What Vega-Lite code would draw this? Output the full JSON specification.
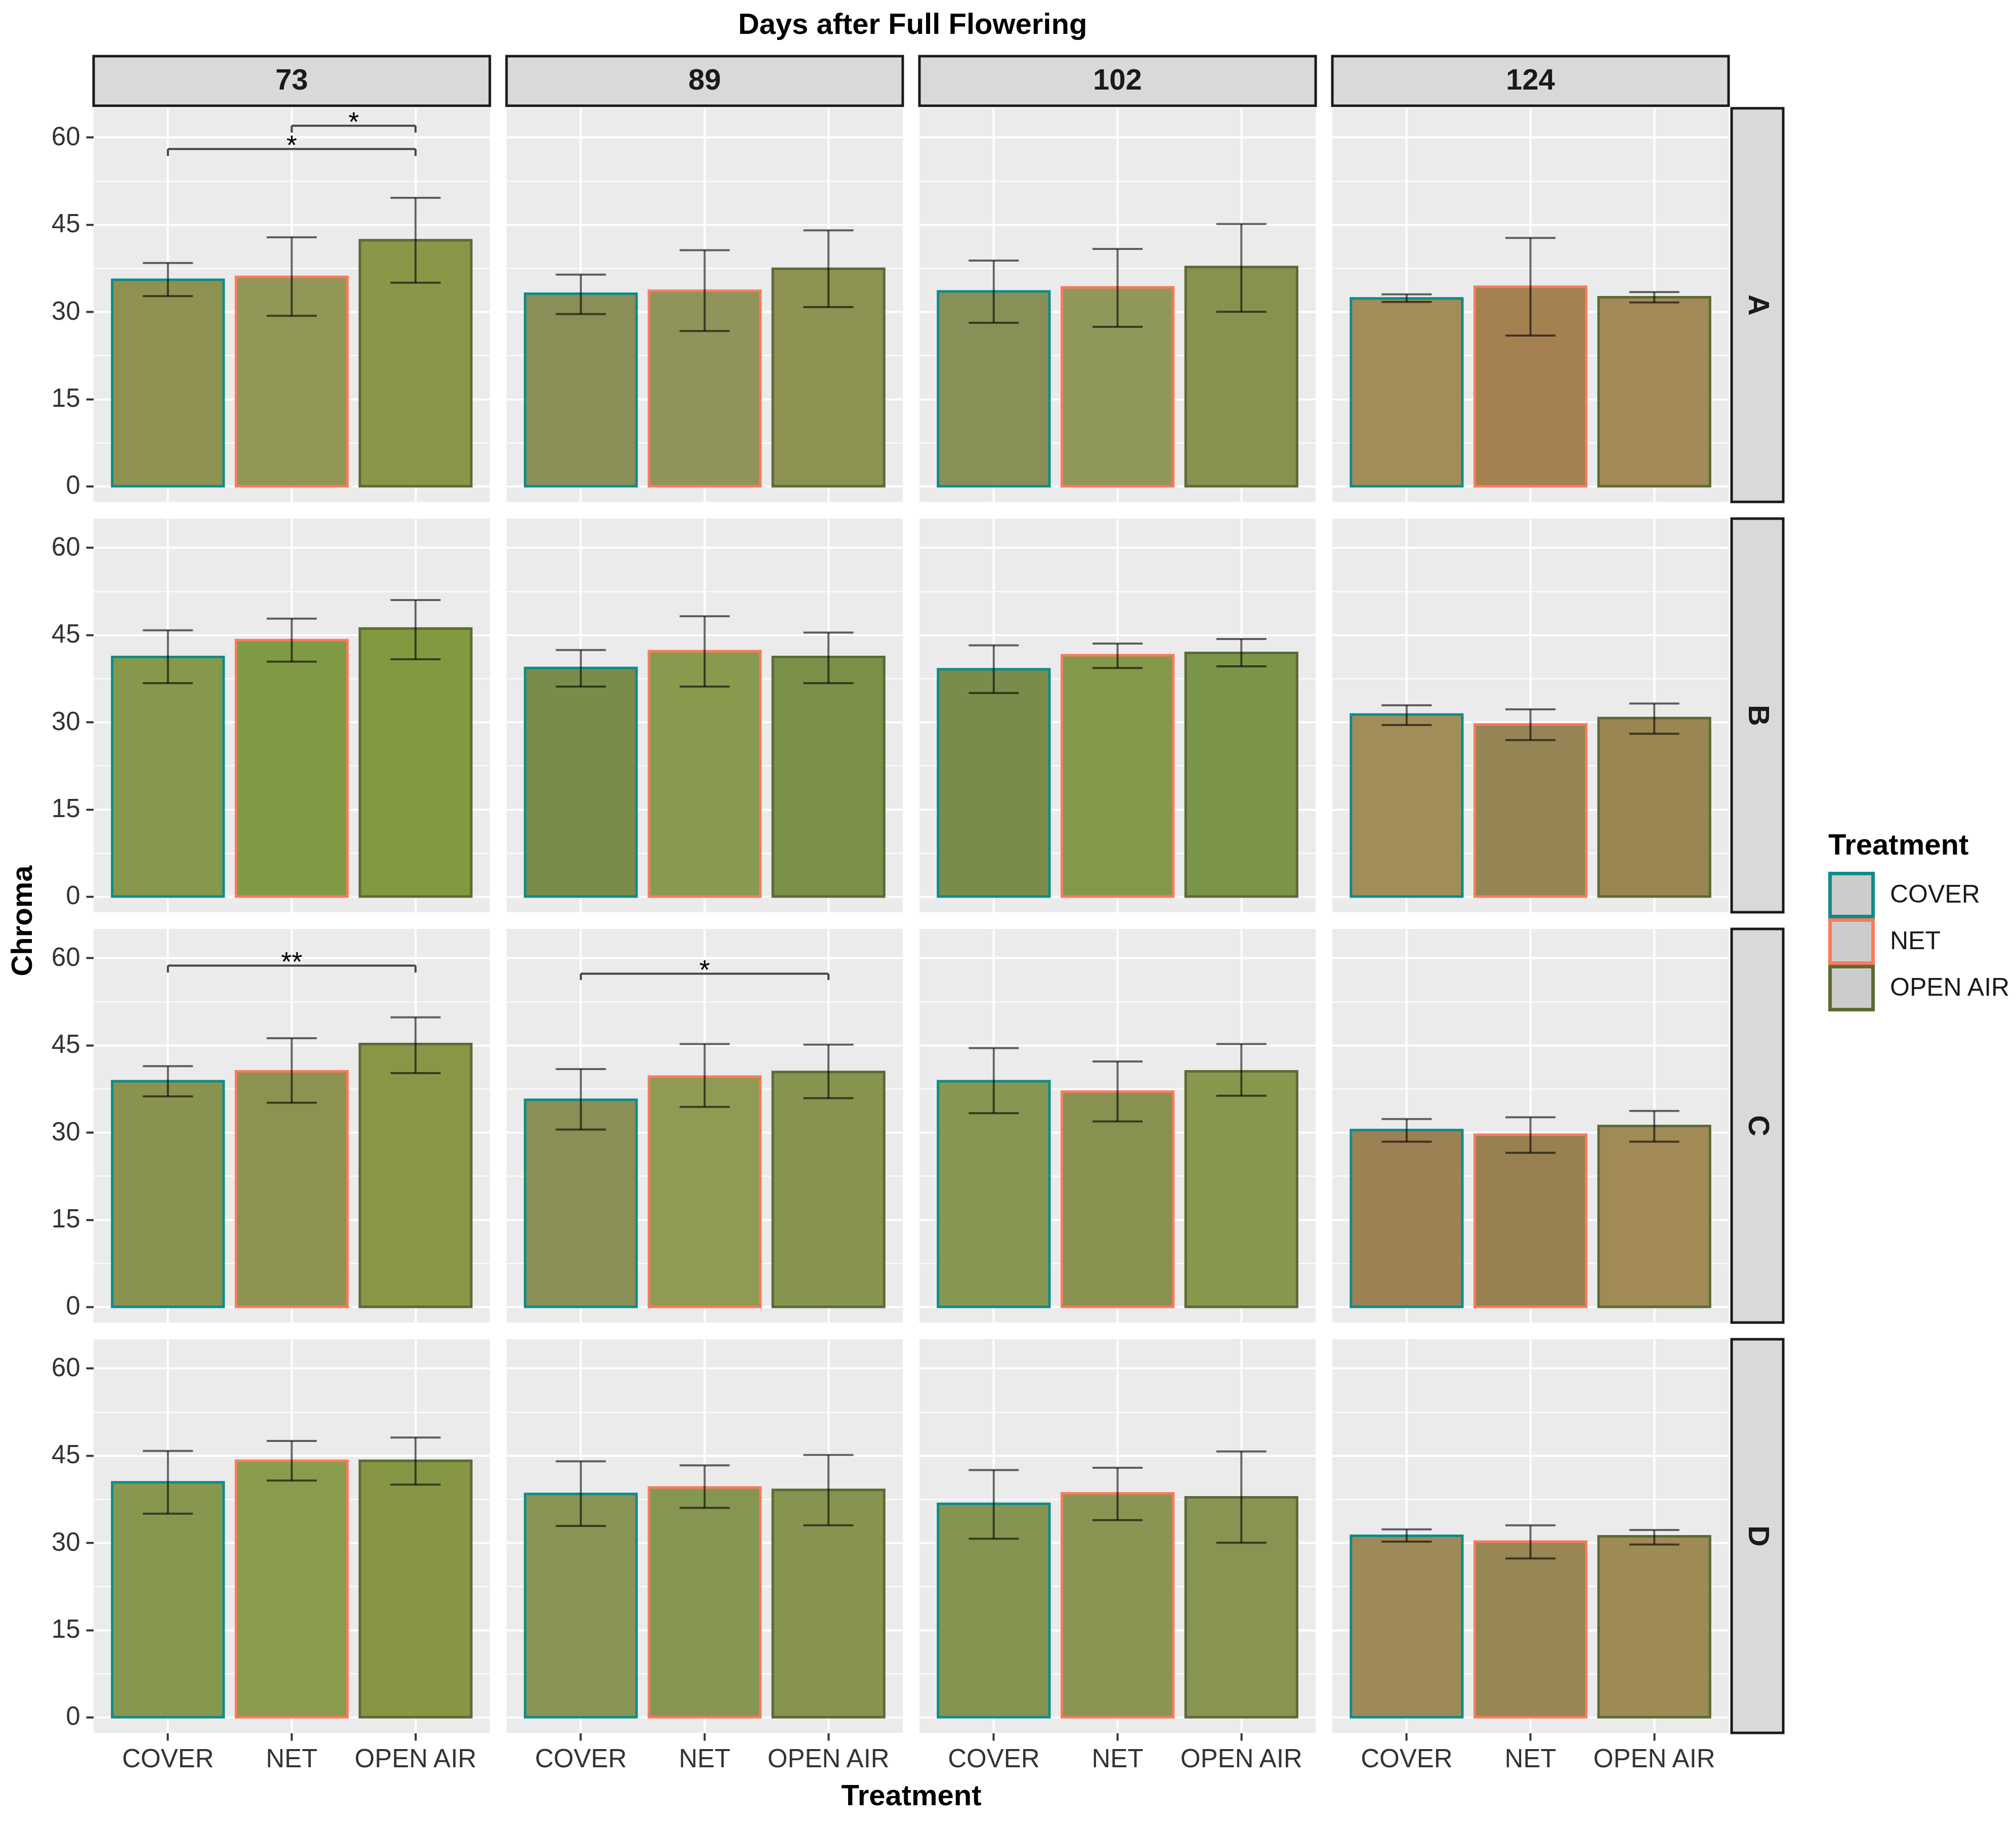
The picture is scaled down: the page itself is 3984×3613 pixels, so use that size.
{
  "$schema": "https://vega.github.io/schema/vega-lite/v6.json",
  "padding": {"left": 17, "top": 20, "right": 5, "bottom": 5},
  "title": {"text": "Days after Full Flowering", "fontSize": 58, "fontWeight": "bold", "anchor": "middle", "offset": 30, "dx": -192, "color": "#000000"},
  "spacing": 0,
  "datasets": {
    "pts": [
      {"kind": "bar", "fruit": "A", "day": 73, "trt": "COVER", "val": 35.5, "lo": 32.7, "hi": 38.4, "col": "#8E9150"},
      {"kind": "bar", "fruit": "A", "day": 73, "trt": "NET", "val": 36.0, "lo": 29.3, "hi": 42.8, "col": "#929656"},
      {"kind": "bar", "fruit": "A", "day": 73, "trt": "OPEN AIR", "val": 42.3, "lo": 35.0, "hi": 49.6, "col": "#8B9649"},
      {"kind": "bar", "fruit": "A", "day": 89, "trt": "COVER", "val": 33.1, "lo": 29.6, "hi": 36.4, "col": "#8C8E58"},
      {"kind": "bar", "fruit": "A", "day": 89, "trt": "NET", "val": 33.6, "lo": 26.7, "hi": 40.6, "col": "#90935A"},
      {"kind": "bar", "fruit": "A", "day": 89, "trt": "OPEN AIR", "val": 37.4, "lo": 30.8, "hi": 44.0, "col": "#8D9252"},
      {"kind": "bar", "fruit": "A", "day": 102, "trt": "COVER", "val": 33.5, "lo": 28.1, "hi": 38.8, "col": "#889057"},
      {"kind": "bar", "fruit": "A", "day": 102, "trt": "NET", "val": 34.2, "lo": 27.4, "hi": 40.8, "col": "#8F985A"},
      {"kind": "bar", "fruit": "A", "day": 102, "trt": "OPEN AIR", "val": 37.7, "lo": 30.0, "hi": 45.1, "col": "#87924F"},
      {"kind": "bar", "fruit": "A", "day": 124, "trt": "COVER", "val": 32.3, "lo": 31.7, "hi": 33.0, "col": "#A28C59"},
      {"kind": "bar", "fruit": "A", "day": 124, "trt": "NET", "val": 34.3, "lo": 25.9, "hi": 42.7, "col": "#A38151"},
      {"kind": "bar", "fruit": "A", "day": 124, "trt": "OPEN AIR", "val": 32.5, "lo": 31.6, "hi": 33.4, "col": "#A38A58"},
      {"kind": "bar", "fruit": "B", "day": 73, "trt": "COVER", "val": 41.2, "lo": 36.7, "hi": 45.8, "col": "#86984B"},
      {"kind": "bar", "fruit": "B", "day": 73, "trt": "NET", "val": 44.1, "lo": 40.4, "hi": 47.8, "col": "#809943"},
      {"kind": "bar", "fruit": "B", "day": 73, "trt": "OPEN AIR", "val": 46.1, "lo": 40.8, "hi": 51.0, "col": "#839940"},
      {"kind": "bar", "fruit": "B", "day": 89, "trt": "COVER", "val": 39.3, "lo": 36.1, "hi": 42.4, "col": "#7A8C4C"},
      {"kind": "bar", "fruit": "B", "day": 89, "trt": "NET", "val": 42.2, "lo": 36.1, "hi": 48.2, "col": "#889A4D"},
      {"kind": "bar", "fruit": "B", "day": 89, "trt": "OPEN AIR", "val": 41.2, "lo": 36.7, "hi": 45.4, "col": "#7A9049"},
      {"kind": "bar", "fruit": "B", "day": 102, "trt": "COVER", "val": 39.1, "lo": 35.0, "hi": 43.2, "col": "#7A8C4C"},
      {"kind": "bar", "fruit": "B", "day": 102, "trt": "NET", "val": 41.5, "lo": 39.3, "hi": 43.5, "col": "#849849"},
      {"kind": "bar", "fruit": "B", "day": 102, "trt": "OPEN AIR", "val": 41.9, "lo": 39.6, "hi": 44.3, "col": "#7A9448"},
      {"kind": "bar", "fruit": "B", "day": 124, "trt": "COVER", "val": 31.3, "lo": 29.5, "hi": 32.9, "col": "#A08D5A"},
      {"kind": "bar", "fruit": "B", "day": 124, "trt": "NET", "val": 29.6, "lo": 26.9, "hi": 32.2, "col": "#958555"},
      {"kind": "bar", "fruit": "B", "day": 124, "trt": "OPEN AIR", "val": 30.7, "lo": 28.0, "hi": 33.2, "col": "#9A8653"},
      {"kind": "bar", "fruit": "C", "day": 73, "trt": "COVER", "val": 38.8, "lo": 36.2, "hi": 41.4, "col": "#8A924F"},
      {"kind": "bar", "fruit": "C", "day": 73, "trt": "NET", "val": 40.5, "lo": 35.1, "hi": 46.2, "col": "#8C9350"},
      {"kind": "bar", "fruit": "C", "day": 73, "trt": "OPEN AIR", "val": 45.2, "lo": 40.2, "hi": 49.8, "col": "#8A9646"},
      {"kind": "bar", "fruit": "C", "day": 89, "trt": "COVER", "val": 35.6, "lo": 30.5, "hi": 40.9, "col": "#8A9055"},
      {"kind": "bar", "fruit": "C", "day": 89, "trt": "NET", "val": 39.6, "lo": 34.4, "hi": 45.2, "col": "#919A52"},
      {"kind": "bar", "fruit": "C", "day": 89, "trt": "OPEN AIR", "val": 40.4, "lo": 35.9, "hi": 45.1, "col": "#879450"},
      {"kind": "bar", "fruit": "C", "day": 102, "trt": "COVER", "val": 38.8, "lo": 33.3, "hi": 44.5, "col": "#869751"},
      {"kind": "bar", "fruit": "C", "day": 102, "trt": "NET", "val": 37.0, "lo": 31.9, "hi": 42.2, "col": "#889150"},
      {"kind": "bar", "fruit": "C", "day": 102, "trt": "OPEN AIR", "val": 40.5, "lo": 36.3, "hi": 45.2, "col": "#87974C"},
      {"kind": "bar", "fruit": "C", "day": 124, "trt": "COVER", "val": 30.4, "lo": 28.4, "hi": 32.3, "col": "#9E8055"},
      {"kind": "bar", "fruit": "C", "day": 124, "trt": "NET", "val": 29.6, "lo": 26.5, "hi": 32.6, "col": "#978150"},
      {"kind": "bar", "fruit": "C", "day": 124, "trt": "OPEN AIR", "val": 31.1, "lo": 28.4, "hi": 33.7, "col": "#A18A56"},
      {"kind": "bar", "fruit": "D", "day": 73, "trt": "COVER", "val": 40.4, "lo": 35.0, "hi": 45.8, "col": "#86984F"},
      {"kind": "bar", "fruit": "D", "day": 73, "trt": "NET", "val": 44.1, "lo": 40.7, "hi": 47.5, "col": "#889C4C"},
      {"kind": "bar", "fruit": "D", "day": 73, "trt": "OPEN AIR", "val": 44.1, "lo": 40.0, "hi": 48.1, "col": "#869645"},
      {"kind": "bar", "fruit": "D", "day": 89, "trt": "COVER", "val": 38.4, "lo": 32.9, "hi": 44.0, "col": "#889555"},
      {"kind": "bar", "fruit": "D", "day": 89, "trt": "NET", "val": 39.5, "lo": 36.0, "hi": 43.3, "col": "#849652"},
      {"kind": "bar", "fruit": "D", "day": 89, "trt": "OPEN AIR", "val": 39.1, "lo": 33.0, "hi": 45.1, "col": "#879450"},
      {"kind": "bar", "fruit": "D", "day": 102, "trt": "COVER", "val": 36.7, "lo": 30.7, "hi": 42.5, "col": "#859450"},
      {"kind": "bar", "fruit": "D", "day": 102, "trt": "NET", "val": 38.5, "lo": 33.9, "hi": 42.9, "col": "#889553"},
      {"kind": "bar", "fruit": "D", "day": 102, "trt": "OPEN AIR", "val": 37.8, "lo": 30.0, "hi": 45.7, "col": "#879452"},
      {"kind": "bar", "fruit": "D", "day": 124, "trt": "COVER", "val": 31.2, "lo": 30.2, "hi": 32.3, "col": "#9E8A58"},
      {"kind": "bar", "fruit": "D", "day": 124, "trt": "NET", "val": 30.2, "lo": 27.3, "hi": 33.0, "col": "#968754"},
      {"kind": "bar", "fruit": "D", "day": 124, "trt": "OPEN AIR", "val": 31.1, "lo": 29.7, "hi": 32.2, "col": "#9E8A55"},
      {"kind": "sig", "fruit": "A", "day": 73, "x1": "COVER", "x2": "OPEN AIR", "mid": "NET", "half": false, "yb": 58.0, "tip": 56.8, "label": "*"},
      {"kind": "sig", "fruit": "A", "day": 73, "x1": "NET", "x2": "OPEN AIR", "mid": "NET", "half": true, "yb": 62.0, "tip": 60.8, "label": "*"},
      {"kind": "sig", "fruit": "C", "day": 73, "x1": "COVER", "x2": "OPEN AIR", "mid": "NET", "half": false, "yb": 58.7, "tip": 57.5, "label": "**"},
      {"kind": "sig", "fruit": "C", "day": 89, "x1": "COVER", "x2": "OPEN AIR", "mid": "NET", "half": false, "yb": 57.3, "tip": 56.2, "label": "*"}
    ],
    "days": [{"day": 73}, {"day": 89}, {"day": 102}, {"day": 124}],
    "fruits": [{"fruit": "A"}, {"fruit": "B"}, {"fruit": "C"}, {"fruit": "D"}],
    "none": []
  },
  "hconcat": [
    {
      "bounds": "flush",
      "spacing": 5,
      "vconcat": [
        {
          "data": {"name": "days"},
          "width": 3231,
          "height": 98,
          "view": {"fill": null, "stroke": null},
          "layer": [
            {
              "mark": {"type": "rect", "fill": "#D9D9D9", "stroke": "#1A1A1A", "strokeWidth": 5},
              "encoding": {
                "x": {"field": "day", "type": "ordinal", "scale": {"paddingInner": 0.04044, "paddingOuter": 0}, "axis": null}
              }
            },
            {
              "mark": {"type": "text", "fontSize": 58, "fontWeight": "bold", "color": "#1A1A1A"},
              "encoding": {
                "x": {"field": "day", "type": "ordinal", "axis": null},
                "text": {"field": "day", "type": "ordinal"}
              }
            }
          ]
        },
        {
          "data": {"name": "pts"},
          "bounds": "flush",
          "spacing": {"row": 33, "column": 33},
          "facet": {
            "row": {"field": "fruit", "type": "nominal", "header": {"labels": false, "title": "Chroma", "titleOrient": "left", "titleFontSize": 58, "titleFontWeight": "bold", "titleColor": "#000000", "titlePadding": 16}},
            "column": {"field": "day", "type": "ordinal", "header": {"labels": false, "title": "Treatment", "titleOrient": "bottom", "titleFontSize": 58, "titleFontWeight": "bold", "titleColor": "#000000", "titlePadding": 10}}
          },
          "spec": {
            "width": 783,
            "height": 778,
            "layer": [
              {
                "transform": [{"filter": "datum.kind == 'bar'"}],
                "mark": {"type": "bar", "strokeWidth": 5},
                "encoding": {
                  "x": {
                    "field": "trt", "type": "nominal", "title": null,
                    "scale": {"paddingInner": 0.1, "paddingOuter": 0.15},
                    "axis": {"bandPosition": 0.5, "grid": true, "gridColor": "#FFFFFF", "gridWidth": 4, "labelAngle": 0, "labelPadding": 12, "labelLimit": 500}
                  },
                  "y": {
                    "field": "val", "type": "quantitative", "title": null,
                    "scale": {"domain": [-2.7, 65], "nice": false, "zero": false},
                    "axis": {
                      "values": [0, 7.5, 15, 22.5, 30, 37.5, 45, 52.5, 60],
                      "labelExpr": "datum.value % 15 === 0 ? datum.label : ''",
                      "gridColor": "#FFFFFF",
                      "gridWidth": {"condition": {"test": "datum.value % 15 !== 0", "value": 2}, "value": 4},
                      "tickOpacity": {"condition": {"test": "datum.value % 15 !== 0", "value": 0}, "value": 1},
                      "labelPadding": 12
                    }
                  },
                  "fill": {"field": "col", "type": "nominal", "scale": null},
                  "stroke": {
                    "field": "trt", "type": "nominal",
                    "scale": {"domain": ["COVER", "NET", "OPEN AIR"], "range": ["#0F8C88", "#FA7A5E", "#5B6B35"]},
                    "legend": {
                      "title": "Treatment",
                      "orient": "none",
                      "legendX": 3428,
                      "legendY": 1532,
                      "symbolType": "square",
                      "symbolSize": 7225,
                      "symbolStrokeWidth": 7,
                      "symbolFillColor": "#CCCCCC",
                      "symbolOpacity": 1,
                      "clipHeight": 92,
                      "rowPadding": 0,
                      "labelOffset": 30,
                      "labelFontSize": 50,
                      "labelLimit": 600,
                      "labelColor": "#1A1A1A",
                      "titleFontSize": 58,
                      "titleLimit": 600,
                      "titleFontWeight": "bold",
                      "titleColor": "#000000",
                      "titlePadding": 22
                    }
                  }
                }
              },
              {
                "transform": [{"filter": "datum.kind == 'bar'"}],
                "mark": {"type": "rule", "color": "#000000", "opacity": 0.6, "strokeWidth": 4},
                "encoding": {
                  "x": {"field": "trt", "type": "nominal", "title": null},
                  "y": {"field": "lo", "type": "quantitative", "title": null},
                  "y2": {"field": "hi"}
                }
              },
              {
                "transform": [{"filter": "datum.kind == 'bar'"}],
                "mark": {"type": "tick", "color": "#000000", "opacity": 0.6, "size": 99, "thickness": 4},
                "encoding": {
                  "x": {"field": "trt", "type": "nominal", "title": null},
                  "y": {"field": "lo", "type": "quantitative", "title": null}
                }
              },
              {
                "transform": [{"filter": "datum.kind == 'bar'"}],
                "mark": {"type": "tick", "color": "#000000", "opacity": 0.6, "size": 99, "thickness": 4},
                "encoding": {
                  "x": {"field": "trt", "type": "nominal", "title": null},
                  "y": {"field": "hi", "type": "quantitative", "title": null}
                }
              },
              {
                "transform": [{"filter": "datum.kind == 'sig'"}],
                "mark": {"type": "rule", "color": "#444444", "strokeWidth": 4},
                "encoding": {
                  "x": {"field": "x1", "type": "nominal", "title": null, "bandPosition": 0.5},
                  "x2": {"field": "x2", "bandPosition": 0.5},
                  "y": {"field": "yb", "type": "quantitative", "title": null}
                }
              },
              {
                "transform": [{"filter": "datum.kind == 'sig'"}],
                "mark": {"type": "rule", "color": "#444444", "strokeWidth": 4},
                "encoding": {
                  "x": {"field": "x1", "type": "nominal", "title": null, "bandPosition": 0.5},
                  "y": {"field": "yb", "type": "quantitative", "title": null},
                  "y2": {"field": "tip"}
                }
              },
              {
                "transform": [{"filter": "datum.kind == 'sig'"}],
                "mark": {"type": "rule", "color": "#444444", "strokeWidth": 4},
                "encoding": {
                  "x": {"field": "x2", "type": "nominal", "title": null, "bandPosition": 0.5},
                  "y": {"field": "yb", "type": "quantitative", "title": null},
                  "y2": {"field": "tip"}
                }
              },
              {
                "transform": [{"filter": "datum.kind == 'sig' && !datum.half"}],
                "mark": {"type": "text", "fontSize": 54, "baseline": "alphabetic", "dy": 11, "color": "#000000"},
                "encoding": {
                  "x": {"field": "mid", "type": "nominal", "title": null, "bandPosition": 0.5},
                  "y": {"field": "yb", "type": "quantitative", "title": null},
                  "text": {"field": "label", "type": "nominal"}
                }
              },
              {
                "transform": [{"filter": "datum.kind == 'sig' && datum.half"}],
                "mark": {"type": "text", "fontSize": 54, "baseline": "alphabetic", "dy": 11, "color": "#000000"},
                "encoding": {
                  "x": {"field": "mid", "type": "nominal", "title": null, "bandPosition": 1.056},
                  "y": {"field": "yb", "type": "quantitative", "title": null},
                  "text": {"field": "label", "type": "nominal"}
                }
              }
            ]
          }
        }
      ]
    },
    {
      "bounds": "flush",
      "spacing": 5,
      "vconcat": [
        {
          "data": {"name": "none"},
          "width": 102,
          "height": 98,
          "view": {"fill": null, "stroke": null},
          "mark": {"type": "rect", "opacity": 0}
        },
        {
          "data": {"name": "fruits"},
          "width": 102,
          "height": 3211,
          "view": {"fill": null, "stroke": null},
          "layer": [
            {
              "mark": {"type": "rect", "fill": "#D9D9D9", "stroke": "#1A1A1A", "strokeWidth": 5},
              "encoding": {
                "y": {"field": "fruit", "type": "nominal", "scale": {"paddingInner": 0.04073, "paddingOuter": 0}, "axis": null}
              }
            },
            {
              "mark": {"type": "text", "fontSize": 58, "fontWeight": "bold", "angle": 90, "color": "#1A1A1A"},
              "encoding": {
                "y": {"field": "fruit", "type": "nominal", "axis": null},
                "text": {"field": "fruit", "type": "nominal"}
              }
            }
          ]
        }
      ]
    }
  ],
  "config": {
    "font": "Liberation Sans",
    "view": {"fill": "#EBEBEB", "stroke": null},
    "axis": {
      "domain": false,
      "labelFontSize": 51,
      "labelColor": "#333333",
      "tickColor": "#333333",
      "tickWidth": 4,
      "tickSize": 15,
      "titleFontSize": 58,
      "titleFontWeight": "bold",
      "titleColor": "#000000"
    }
  }
}
